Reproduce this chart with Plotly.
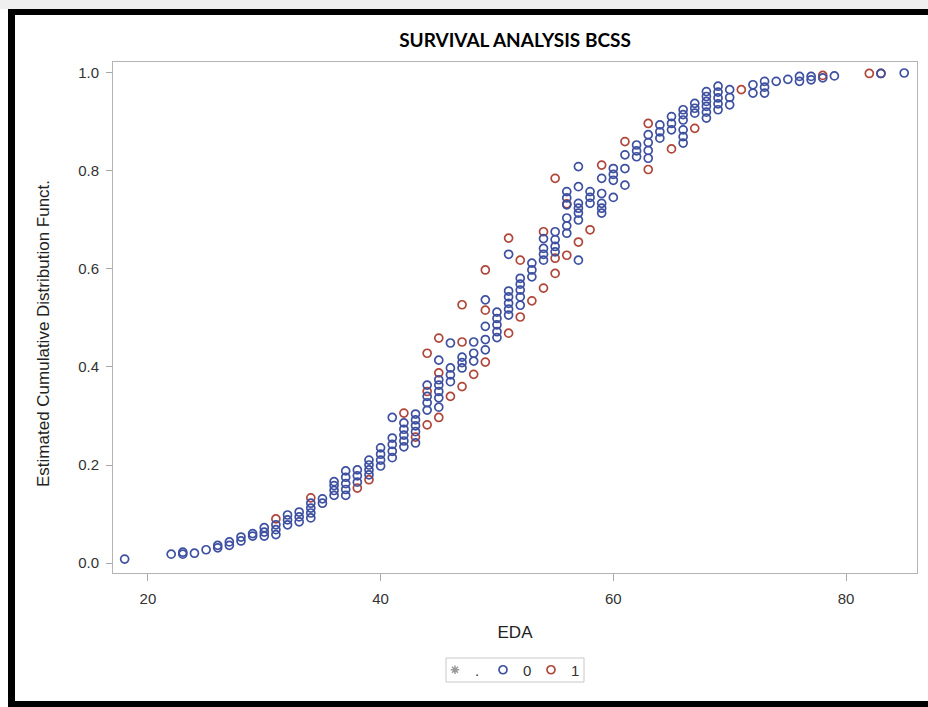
import plotly.graph_objects as go

# Estimated cumulative distribution by age (EDA), group 0
ages_0 = [
    18,
    22,
    23, 23,
    24,
    25,
    26, 26,
    27, 27,
    28, 28,
    29, 29,
    30, 30, 30,
    31, 31, 31,
    32, 32, 32,
    33, 33, 33,
    34, 34, 34, 34,
    35, 35,
    36, 36, 36, 36,
    37, 37, 37, 37, 37,
    38, 38, 38,
    39, 39, 39, 39,
    40, 40, 40, 40,
    41, 41, 41, 41, 41,
    42, 42, 42, 42, 42,
    43, 43, 43, 43, 43,
    44, 44, 44, 44,
    45, 45, 45, 45, 45, 45,
    46, 46, 46, 46,
    47, 47, 47,
    48, 48, 48,
    49, 49, 49, 49,
    50, 50, 50, 50, 50,
    51, 51, 51, 51, 51, 51,
    52, 52, 52, 52, 52,
    53, 53, 53,
    54, 54, 54, 54,
    55, 55, 55, 55,
    56, 56, 56, 56, 56, 56,
    57, 57, 57, 57, 57, 57, 57,
    58, 58, 58,
    59, 59, 59, 59, 59,
    60, 60, 60, 60,
    61, 61, 61,
    62, 62, 62,
    63, 63, 63, 63,
    64, 64, 64,
    65, 65, 65,
    66, 66, 66, 66, 66, 66,
    67, 67, 67,
    68, 68, 68, 68, 68, 68,
    69, 69, 69, 69, 69,
    70, 70, 70,
    72, 72,
    73, 73, 73,
    74,
    75,
    76, 76,
    77, 77,
    78,
    79,
    83,
    85,
]
cdf_0 = [
    0.008,
    0.018,
    0.018, 0.022,
    0.020,
    0.027,
    0.031, 0.036,
    0.036, 0.043,
    0.045, 0.053,
    0.055, 0.060,
    0.055, 0.063, 0.072,
    0.058, 0.068, 0.078,
    0.078, 0.088, 0.098,
    0.084, 0.094, 0.104,
    0.092, 0.102, 0.112, 0.122,
    0.122, 0.131,
    0.138, 0.148, 0.158, 0.166,
    0.138, 0.150, 0.162, 0.175, 0.188,
    0.165, 0.178, 0.190,
    0.180, 0.190, 0.200, 0.210,
    0.198, 0.210, 0.222, 0.235,
    0.215, 0.228, 0.242, 0.255, 0.297,
    0.237, 0.249, 0.261, 0.273, 0.286,
    0.268, 0.280, 0.292, 0.304, 0.245,
    0.312, 0.327, 0.340, 0.363,
    0.414, 0.337, 0.350, 0.363, 0.374, 0.318,
    0.449, 0.370, 0.384, 0.398,
    0.398, 0.409, 0.420,
    0.451, 0.428, 0.412,
    0.537, 0.483, 0.456, 0.435,
    0.486, 0.499, 0.512, 0.472, 0.460,
    0.630, 0.506, 0.518, 0.530, 0.543, 0.555,
    0.557, 0.569, 0.581, 0.526, 0.543,
    0.598, 0.612, 0.584,
    0.618, 0.630, 0.642, 0.662,
    0.646, 0.660, 0.676, 0.635,
    0.731, 0.745, 0.758, 0.673, 0.688, 0.704,
    0.809, 0.768, 0.714, 0.724, 0.734, 0.700, 0.618,
    0.734, 0.746, 0.758,
    0.714, 0.724, 0.734, 0.754, 0.785,
    0.781, 0.793, 0.805, 0.746,
    0.833, 0.805, 0.771,
    0.829, 0.841, 0.853,
    0.826, 0.842, 0.858, 0.874,
    0.867, 0.880, 0.894,
    0.884, 0.897, 0.911,
    0.857, 0.870, 0.884, 0.904, 0.915, 0.925,
    0.918, 0.928, 0.938,
    0.908, 0.920, 0.932, 0.942, 0.952, 0.962,
    0.925, 0.937, 0.949, 0.961, 0.973,
    0.935, 0.950, 0.966,
    0.959, 0.976,
    0.959, 0.971, 0.983,
    0.983,
    0.987,
    0.983, 0.993,
    0.986, 0.993,
    0.990,
    0.994,
    0.999,
    1.000,
]

# Group 1
ages_1 = [31, 34, 38, 39, 42, 43, 44, 44, 44, 45, 45, 45, 46, 47, 47, 47,
          48, 49, 49, 49, 51, 51, 52, 52, 53, 54, 54, 55, 55, 55, 56, 56,
          57, 58, 59, 61, 63, 63, 65, 67, 71, 78, 82, 83]
cdf_1 = [0.090, 0.133, 0.153, 0.170, 0.306, 0.257, 0.428, 0.350, 0.282,
         0.459, 0.388, 0.297, 0.340, 0.527, 0.451, 0.360, 0.385, 0.598,
         0.516, 0.410, 0.663, 0.469, 0.618, 0.502, 0.535, 0.676, 0.561,
         0.785, 0.622, 0.591, 0.733, 0.628, 0.655, 0.680, 0.812, 0.860,
         0.897, 0.803, 0.845, 0.887, 0.966, 0.995, 0.999, 0.999]

x_ticks = [20, 40, 60, 80]
y_ticks = [0.0, 0.2, 0.4, 0.6, 0.8, 1.0]
y_tick_text = ["0.0", "0.2", "0.4", "0.6", "0.8", "1.0"]

BLUE = "#3E50A0"
RED = "#B0463A"
GREY = "#9A9A9A"

fig = go.Figure()

# missing-value group: legend entry only
fig.add_trace(go.Scatter(
    x=[None], y=[None], mode="markers", name=".", legendrank=1,
    marker=dict(symbol="asterisk-open", size=7, color=GREY,
                line=dict(color=GREY, width=1.5)),
))
fig.add_trace(go.Scatter(
    x=ages_1, y=cdf_1, mode="markers", name="1", legendrank=3,
    marker=dict(symbol="circle-open", size=8, color=RED,
                line=dict(color=RED, width=1.7)),
))
fig.add_trace(go.Scatter(
    x=ages_0, y=cdf_0, mode="markers", name="0", legendrank=2,
    marker=dict(symbol="circle-open", size=8, color=BLUE,
                line=dict(color=BLUE, width=1.7)),
))

W, H = 928, 707
L, R, T, B = 113, 917, 62, 573


def px_x(p):
    return (p - L) / (R - L)


def px_y(p):
    return (B - p) / (B - T)


shapes = [
    # light strip along the top edge
    dict(type="rect", xref="paper", yref="paper", x0=px_x(0), x1=px_x(W),
         y0=px_y(0), y1=px_y(9), fillcolor="#EFEFEF", line_width=0, layer="below"),
    # black frame: top, left, bottom
    dict(type="rect", xref="paper", yref="paper", x0=px_x(8), x1=px_x(W),
         y0=px_y(9), y1=px_y(15), fillcolor="black", line_width=0),
    dict(type="rect", xref="paper", yref="paper", x0=px_x(8), x1=px_x(15),
         y0=px_y(9), y1=px_y(H), fillcolor="black", line_width=0),
    dict(type="rect", xref="paper", yref="paper", x0=px_x(8), x1=px_x(W),
         y0=px_y(701), y1=px_y(H), fillcolor="black", line_width=0),
    # legend frame
    dict(type="rect", xref="paper", yref="paper", x0=px_x(446), x1=px_x(584),
         y0=px_y(682), y1=px_y(658), line=dict(color="#C8C8C8", width=1),
         fillcolor="rgba(0,0,0,0)", layer="below"),
]

axis_font = dict(family="Liberation Sans, Arial, sans-serif", size=15, color="#333333")
title_font = dict(family="Liberation Sans, Arial, sans-serif", size=17, color="#222222")

annotations = [
    dict(text="Estimated Cumulative Distribution Funct.", xref="paper", yref="paper",
         x=px_x(43), y=px_y(334), xanchor="center", yanchor="middle", textangle=-90,
         showarrow=False, font=title_font),
]

fig.update_layout(
    width=W, height=H,
    margin=dict(l=L, r=W - R, t=T, b=H - B),
    paper_bgcolor="white", plot_bgcolor="white",
    title=dict(text="<b>SURVIVAL ANALYSIS BCSS</b>", x=(L + R) / 2 / W, xanchor="center",
               y=1 - 40 / H, yanchor="middle",
               font=dict(family="Lato, Open Sans, sans-serif", size=19, color="black")),
    xaxis=dict(range=[17.0, 86.1], tickvals=x_ticks, ticks="outside", ticklen=7,
               tickcolor="#A8A8A8", showline=True, linecolor="#B4B4B4", linewidth=1,
               mirror=True, showgrid=False, zeroline=False, tickfont=axis_font,
               ticklabelstandoff=5,
               title=dict(text="EDA", font=title_font, standoff=20)),
    yaxis=dict(range=[-0.0204, 1.0224], tickvals=y_ticks, ticktext=y_tick_text,
               ticks="outside", ticklen=6, tickcolor="#A8A8A8", showline=True,
               linecolor="#B4B4B4", linewidth=1, mirror=True, showgrid=False,
               zeroline=False, tickfont=axis_font, ticklabelstandoff=4),
    legend=dict(orientation="h", x=px_x(507), xanchor="center", y=px_y(670),
                yanchor="middle", borderwidth=0, bgcolor="rgba(0,0,0,0)",
                font=dict(family="Liberation Sans, Arial, sans-serif", size=15, color="#333333"),
                itemwidth=30, entrywidth=3, entrywidthmode="pixels",
                traceorder="normal"),
    shapes=shapes,
    annotations=annotations,
    showlegend=True,
)

fig.write_html("out.html")
